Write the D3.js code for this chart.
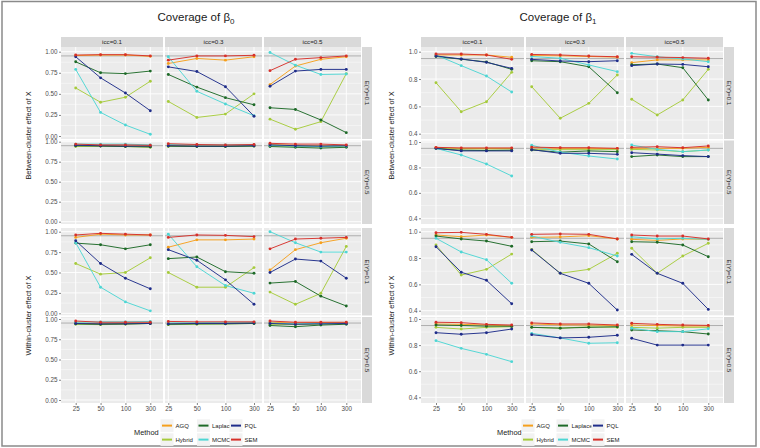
<!DOCTYPE html>
<html><head><meta charset="utf-8">
<script src="https://cdn.jsdelivr.net/npm/d3@7"></script>
<style>body{margin:0;background:#fff;} text{font-family:"Liberation Sans",Arial,sans-serif;}</style>
</head><body><svg id="c" width="760" height="448"></svg>
<script>
const methods = ["AGQ","Hybrid","Laplace","MCMC","PQL","SEM"];
const methodColors = ["#F5A01E","#A6CB3C","#1E6A28","#4ED6D4","#1F2D8A","#D6302A"];
const sampleSizes = ["25","50","100","300"];
const iccLabels = ["icc=0.1","icc=0.3","icc=0.5"];
const eyLabels = ["E(Y)=0.1","E(Y)=0.5"];
const effectTitles = ["Between-cluster effect of X","Within-cluster effect of X"];
const b0Ticks = [0,0.25,0.5,0.75,1];
const b0Minor = [0.125,0.375,0.625,0.875];
const b1Ticks = [0.4,0.6,0.8,1.0];
const b1Minor = [0.5,0.7,0.9];
const refLine = 0.95;

// each row: method; 12 values = icc0.1 (n=25,50,100,300) | icc0.3 | icc0.5
const b0BetweenEY01 = [
 [0.955,0.96,0.96,0.945, 0.86,0.92,0.90,0.94, 0.61,0.83,0.91,0.94],
 [0.57,0.40,0.46,0.65, 0.41,0.22,0.26,0.50, 0.20,0.08,0.17,0.74],
 [0.88,0.75,0.74,0.77, 0.73,0.58,0.455,0.37, 0.335,0.315,0.19,0.04],
 [0.79,0.28,0.13,0.02, 0.94,0.53,0.38,0.24, 0.99,0.84,0.73,0.735],
 [0.94,0.69,0.51,0.30, 0.82,0.765,0.585,0.235, 0.59,0.77,0.79,0.79],
 [0.96,0.965,0.965,0.95, 0.90,0.95,0.95,0.957, 0.775,0.91,0.93,0.95]];
const b0BetweenEY05 = [
 [0.95,0.95,0.945,0.94, 0.955,0.95,0.95,0.955, 0.965,0.955,0.95,0.95],
 [0.94,0.945,0.94,0.93, 0.94,0.94,0.94,0.945, 0.95,0.94,0.935,0.94],
 [0.95,0.945,0.94,0.935, 0.945,0.94,0.94,0.945, 0.94,0.93,0.92,0.93],
 [0.97,0.97,0.97,0.96, 0.965,0.96,0.96,0.96, 0.955,0.945,0.94,0.945],
 [0.955,0.95,0.945,0.945, 0.95,0.945,0.945,0.95, 0.96,0.95,0.945,0.95],
 [0.97,0.96,0.96,0.955, 0.975,0.965,0.96,0.965, 0.98,0.97,0.97,0.96]];
const b0WithinEY01 = [
 [0.93,0.97,0.96,0.96, 0.81,0.90,0.90,0.91, 0.53,0.78,0.865,0.92],
 [0.61,0.48,0.50,0.68, 0.50,0.32,0.32,0.56, 0.26,0.11,0.245,0.82],
 [0.86,0.84,0.79,0.84, 0.67,0.69,0.51,0.49, 0.37,0.39,0.21,0.09],
 [0.865,0.32,0.14,0.03, 0.97,0.57,0.34,0.245, 1.00,0.865,0.75,0.75],
 [0.89,0.61,0.43,0.30, 0.78,0.65,0.41,0.11, 0.50,0.665,0.64,0.43],
 [0.96,0.98,0.97,0.96, 0.93,0.96,0.955,0.94, 0.79,0.91,0.92,0.93]];
const b0WithinEY05 = [
 [0.95,0.94,0.945,0.95, 0.945,0.945,0.95,0.955, 0.96,0.95,0.955,0.955],
 [0.935,0.93,0.935,0.945, 0.93,0.935,0.94,0.945, 0.935,0.93,0.935,0.945],
 [0.94,0.935,0.94,0.945, 0.935,0.94,0.94,0.945, 0.92,0.905,0.925,0.935],
 [0.96,0.965,0.965,0.97, 0.95,0.955,0.96,0.96, 0.95,0.94,0.945,0.95],
 [0.945,0.94,0.94,0.945, 0.94,0.945,0.945,0.95, 0.945,0.935,0.94,0.945],
 [0.975,0.96,0.96,0.96, 0.97,0.965,0.965,0.965, 0.975,0.96,0.96,0.96]];
const b1BetweenEY01 = [
 [0.976,0.976,0.976,0.959, 0.972,0.97,0.965,0.96, 0.92,0.94,0.94,0.94],
 [0.773,0.561,0.634,0.849, 0.744,0.513,0.622,0.83, 0.652,0.537,0.647,0.871],
 [0.965,0.945,0.925,0.871, 0.934,0.927,0.89,0.70, 0.905,0.91,0.883,0.647],
 [0.976,0.898,0.822,0.705, 0.965,0.952,0.903,0.854, 0.988,0.963,0.947,0.927],
 [0.969,0.947,0.922,0.878, 0.944,0.932,0.927,0.934, 0.898,0.91,0.907,0.89],
 [0.983,0.983,0.976,0.944, 0.98,0.976,0.968,0.963, 0.963,0.96,0.957,0.952]];
const b1BetweenEY05 = [
 [0.955,0.95,0.95,0.95, 0.955,0.95,0.95,0.948, 0.95,0.95,0.95,0.958],
 [0.95,0.945,0.945,0.945, 0.94,0.94,0.94,0.94, 0.942,0.937,0.924,0.937],
 [0.948,0.935,0.933,0.935, 0.937,0.92,0.93,0.924, 0.885,0.898,0.885,0.885],
 [0.95,0.898,0.827,0.733, 0.974,0.92,0.89,0.866, 0.976,0.942,0.924,0.937],
 [0.95,0.93,0.93,0.93, 0.94,0.911,0.911,0.903, 0.916,0.905,0.893,0.885],
 [0.958,0.953,0.953,0.953, 0.96,0.955,0.955,0.95, 0.958,0.963,0.955,0.969]];
const b1WithinEY01 = [
 [0.975,0.962,0.975,0.957, 0.957,0.96,0.97,0.945, 0.942,0.934,0.945,0.942],
 [0.899,0.671,0.714,0.83, 0.866,0.684,0.714,0.836, 0.874,0.684,0.815,0.912],
 [0.967,0.945,0.929,0.889, 0.924,0.929,0.907,0.772, 0.924,0.92,0.899,0.81],
 [0.95,0.846,0.787,0.608, 0.967,0.919,0.879,0.815, 0.962,0.945,0.95,0.942],
 [0.886,0.692,0.631,0.453, 0.861,0.684,0.608,0.405, 0.828,0.684,0.608,0.41],
 [0.992,0.995,0.98,0.957, 0.98,0.983,0.98,0.945, 0.975,0.967,0.967,0.945]];
const b1WithinEY05 = [
 [0.962,0.959,0.954,0.946, 0.962,0.955,0.954,0.95, 0.954,0.95,0.946,0.946],
 [0.936,0.923,0.936,0.941, 0.936,0.93,0.94,0.936, 0.936,0.93,0.936,0.936],
 [0.954,0.95,0.945,0.945, 0.936,0.93,0.936,0.941, 0.916,0.91,0.903,0.885],
 [0.834,0.775,0.729,0.673, 0.89,0.855,0.814,0.818, 0.929,0.903,0.903,0.925],
 [0.895,0.883,0.895,0.923, 0.88,0.855,0.86,0.875, 0.852,0.80,0.80,0.80],
 [0.975,0.972,0.959,0.954, 0.97,0.962,0.962,0.954, 0.967,0.959,0.954,0.951]];

const svg = d3.select("#c");
svg.append("rect").attr("x",2).attr("y",1.5).attr("width",754).attr("height",444.5)
  .attr("fill","none").attr("stroke","#8a8a8a").attr("stroke-width",1.5);

const rowRects = [[[47,139],[140.5,224]],[[228,315.5],[317,403]]];
const topStrip = [37,47];

const layouts = [
 {param:"0", data:[[b0BetweenEY01,b0BetweenEY05],[b0WithinEY01,b0WithinEY05]],
  ticks:b0Ticks, minor:b0Minor, fmt:d3.format(".2f"), domain:[0,1],
  titleX:196, yTitleX:28,
  cols:[[61,163],[165,262],[264,361]], pts:[[75.7,150.3],[168.3,254],[270,346.3]], strip:[362,372],
  yRanges:[[[136,51.7],[221.7,141.7]],[[313.3,231.7],[400,319]]],
  legend:{title:134, keys:[160.5,197,229.5]}},
 {param:"1", data:[[b1BetweenEY01,b1BetweenEY05],[b1WithinEY01,b1WithinEY05]],
  ticks:b1Ticks, minor:b1Minor, fmt:d3.format(".1f"), domain:[0.4,1],
  titleX:558, yTitleX:391.7,
  cols:[[421,524],[526,624],[626,723]], pts:[[436,511.7],[531.7,617.3],[631.7,708.3]], strip:[724,734],
  yRanges:[[[133.7,51.7],[218.3,142]],[[310.7,231.7],[397.3,319]]],
  legend:{title:497, keys:[521.5,556.5,591.5]}}
];

let clipId = 0;
layouts.forEach(L => {
  const g = svg.append("g");
  const t = g.append("text").attr("x",L.titleX).attr("y",21).attr("text-anchor","middle")
    .attr("font-size",11.5).attr("fill","#1a1a1a");
  t.append("tspan").text("Coverage of β");
  t.append("tspan").attr("font-size",8).attr("dy",2.5).text(L.param);

  L.cols.forEach((c,ci) => {
    g.append("rect").attr("x",c[0]).attr("y",topStrip[0]).attr("width",c[1]-c[0]).attr("height",topStrip[1]-topStrip[0]).attr("fill","#D9D9D9");
    g.append("text").attr("x",(c[0]+c[1])/2).attr("y",(topStrip[0]+topStrip[1])/2).attr("dy","0.35em")
      .attr("text-anchor","middle").attr("font-size",6.2).attr("fill","#1a1a1a").text(iccLabels[ci]);
  });

  [0,1].forEach(e => {
    const yc = (rowRects[e][0][0]+rowRects[e][1][1])/2;
    g.append("text").attr("transform",`translate(${L.yTitleX},${yc}) rotate(-90)`).attr("dy","0.35em")
      .attr("text-anchor","middle").attr("font-size",7.4).attr("fill","#1a1a1a").text(effectTitles[e]);
    [0,1].forEach(r => {
      const rr = rowRects[e][r];
      const y = d3.scaleLinear().domain(L.domain).range(L.yRanges[e][r]);
      g.append("rect").attr("x",L.strip[0]).attr("y",rr[0]).attr("width",L.strip[1]-L.strip[0]).attr("height",rr[1]-rr[0]).attr("fill","#D9D9D9");
      g.append("text").attr("transform",`translate(${(L.strip[0]+L.strip[1])/2},${(rr[0]+rr[1])/2}) rotate(90)`).attr("dy","0.35em")
        .attr("text-anchor","middle").attr("font-size",6.2).attr("fill","#1a1a1a").text(eyLabels[r]);
      const ax = g.append("g").attr("transform",`translate(${L.cols[0][0]},0)`)
        .call(d3.axisLeft(y).tickValues(L.ticks).tickFormat(L.fmt).tickSize(2).tickPadding(1.5));
      ax.select(".domain").remove();
      ax.selectAll("line").attr("stroke","#333").attr("stroke-width",0.6);
      ax.selectAll("text").attr("font-size",6.3).attr("fill","#4D4D4D").attr("font-family","Liberation Sans, Arial, sans-serif");

      L.cols.forEach((c,ci) => {
        const x = d3.scalePoint().domain(sampleSizes).range(L.pts[ci]);
        const id = "clip"+(clipId++);
        g.append("clipPath").attr("id",id).append("rect").attr("x",c[0]).attr("y",rr[0]).attr("width",c[1]-c[0]).attr("height",rr[1]-rr[0]);
        const p = g.append("g").attr("clip-path",`url(#${id})`);
        p.append("rect").attr("x",c[0]).attr("y",rr[0]).attr("width",c[1]-c[0]).attr("height",rr[1]-rr[0]).attr("fill","#EBEBEB");
        L.minor.forEach(v => p.append("line").attr("x1",c[0]).attr("x2",c[1]).attr("y1",y(v)).attr("y2",y(v)).attr("stroke","#fff").attr("stroke-width",0.45));
        L.ticks.forEach(v => p.append("line").attr("x1",c[0]).attr("x2",c[1]).attr("y1",y(v)).attr("y2",y(v)).attr("stroke","#fff").attr("stroke-width",0.9));
        sampleSizes.forEach(s => p.append("line").attr("x1",x(s)).attr("x2",x(s)).attr("y1",rr[0]).attr("y2",rr[1]).attr("stroke","#fff").attr("stroke-width",0.9));
        p.append("line").attr("x1",c[0]).attr("x2",c[1]).attr("y1",y(refLine)).attr("y2",y(refLine)).attr("stroke","#A8A8A8").attr("stroke-width",0.9);
        const data = L.data[e][r];
        methods.forEach((m,mi) => {
          const vals = sampleSizes.map((s,si) => ({s, v:data[mi][ci*4+si]}));
          p.append("path").datum(vals).attr("fill","none").attr("stroke",methodColors[mi]).attr("stroke-width",0.95)
            .attr("d", d3.line().x(d=>x(d.s)).y(d=>y(d.v)));
          p.selectAll(null).data(vals).enter().append("circle").attr("cx",d=>x(d.s)).attr("cy",d=>y(d.v)).attr("r",1.45).attr("fill",methodColors[mi]);
        });
        if (e===1 && r===1) {
          const xa = g.append("g").attr("transform",`translate(0,${rr[1]})`).call(d3.axisBottom(x).tickSize(2).tickPadding(1.5));
          xa.select(".domain").remove();
          xa.selectAll("line").attr("stroke","#333").attr("stroke-width",0.6);
          xa.selectAll("text").attr("font-size",6.3).attr("fill","#4D4D4D").attr("font-family","Liberation Sans, Arial, sans-serif");
        }
      });
    });
  });

  g.append("text").attr("x",L.legend.title).attr("y",432.5).attr("dy","0.35em").attr("font-size",7.4).attr("fill","#1a1a1a").text("Method");
  methods.forEach((m,mi) => {
    const col = Math.floor(mi/2), row = mi%2;
    const kx = L.legend.keys[col], ky = 419.3 + row*14;
    g.append("rect").attr("x",kx).attr("y",ky).attr("width",13).attr("height",12.6).attr("fill","#F2F2F2");
    g.append("line").attr("x1",kx+1.5).attr("x2",kx+11.5).attr("y1",ky+6.3).attr("y2",ky+6.3).attr("stroke",methodColors[mi]).attr("stroke-width",2);
    g.append("text").attr("x",kx+15).attr("y",ky+6.3).attr("dy","0.35em").attr("font-size",6).attr("fill","#1a1a1a").text(m);
  });
});
</script></body></html>
